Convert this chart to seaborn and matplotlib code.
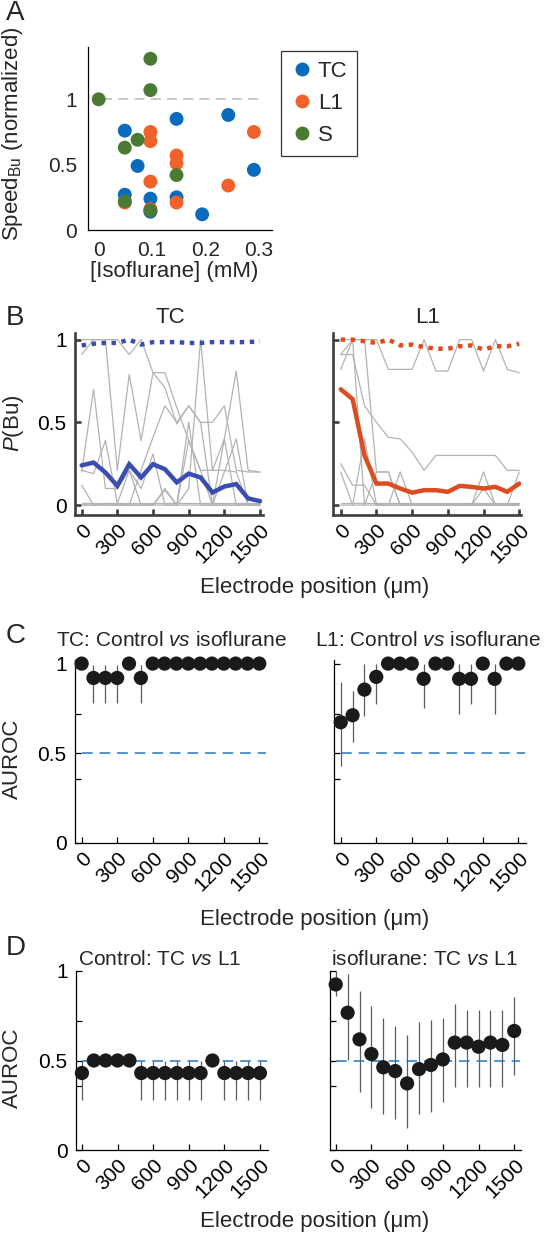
import numpy as np
import pandas as pd
import matplotlib
matplotlib.use("Agg")
import matplotlib.pyplot as plt
import seaborn as sns
from matplotlib.transforms import ScaledTranslation

# ---------------- data ----------------
groups = ["TC", "L1", "S"]
colors_A = ["#0a6bbd", "#f0622a", "#4a7a33"]
tc_conc = [0.049, 0.049, 0.073, 0.097, 0.097, 0.146, 0.146, 0.194, 0.243, 0.291]
tc_speed = [0.76, 0.27, 0.49, 0.24, 0.14, 0.85, 0.25, 0.12, 0.88, 0.46]
l1_conc = [0.049, 0.097, 0.097, 0.097, 0.097, 0.146, 0.146, 0.146, 0.243, 0.291]
l1_speed = [0.21, 0.75, 0.68, 0.37, 0.16, 0.57, 0.51, 0.21, 0.34, 0.75]
s_conc = [0.0, 0.049, 0.049, 0.073, 0.097, 0.097, 0.097, 0.146]
s_speed = [1.0, 0.63, 0.22, 0.69, 1.31, 1.07, 0.15, 0.42]

pos = list(range(0, 1600, 100))
pos_ticks = [0, 300, 600, 900, 1200, 1500]

# panel B: P(Bu) per electrode position
tc_ctrl_mean = [0.965, 0.975, 0.98, 0.98, 1.0, 0.97, 0.985, 0.985, 0.985, 0.98, 0.98, 0.985, 0.985, 0.985, 0.985, 0.99]
tc_iso_mean = [0.24, 0.257, 0.197, 0.116, 0.247, 0.167, 0.247, 0.217, 0.137, 0.19, 0.167, 0.076, 0.112, 0.127, 0.04, 0.024]
tc_traces = [
    [0.91, 1.0, 1.0, 1.0, 0.91, 1.0, 0.80, 0.80, 0.59, 0.39, 0.21, 0.21, 0.40, 0.81, 0.21, 0.20],
    [1.0, 1.0, 1.0, 0.21, 0.79, 0.39, 0.80, 0.71, 0.49, 0.60, 0.50, 0.50, 0.60, 0.21, 0.20, 0.20],
    [0.20, 0.70, 0.10, 0.10, 0.21, 0.10, 0.31, 0.0, 0.0, 0.50, 0.0, 0.0, 0.40, 0.0, 0.0, 0.0],
    [0.12, 0.0, 0.0, 0.0, 0.0, 0.0, 0.0, 0.10, 0.0, 0.10, 1.0, 0.21, 0.21, 0.20, 0.0, 0.0],
    [0.21, 0.19, 0.39, 0.01, 0.21, 0.0, 0.0, 0.09, 0.0, 0.39, 0.21, 0.0, 0.0, 0.0, 0.0, 0.01],
    [0.0, 0.0, 0.0, 0.0, 0.0, 0.21, 0.41, 0.60, 0.50, 0.60, 0.50, 0.0, 0.20, 0.40, 0.0, 0.0],
    [0.01, 0.01, 0.01, 0.01, 0.01, 0.01, 0.01, 0.01, 0.01, 0.01, 0.01, 0.01, 0.01, 0.01, 0.01, 0.01],
    [0.0, 0.0, 0.01, 0.0, 0.0, 0.0, 0.0, 0.0, 0.0, 0.0, 0.0, 0.0, 0.0, 0.0, 0.01, 0.0],
]
l1_ctrl_mean = [1.0, 1.0, 0.99, 0.98, 1.0, 0.965, 0.97, 0.955, 0.945, 0.945, 0.96, 0.965, 0.94, 0.96, 0.96, 0.975]
l1_iso_mean = [0.70, 0.64, 0.30, 0.13, 0.13, 0.10, 0.075, 0.09, 0.09, 0.08, 0.116, 0.11, 0.10, 0.11, 0.08, 0.13]
l1_traces = [
    [1.0, 1.0, 1.0, 1.0, 0.82, 0.82, 0.82, 1.0, 0.81, 0.81, 1.0, 1.0, 0.81, 1.0, 0.82, 0.80],
    [0.91, 0.91, 0.60, 0.50, 0.41, 0.40, 0.32, 0.21, 0.30, 0.30, 0.30, 0.30, 0.30, 0.30, 0.21, 0.21],
    [0.82, 1.0, 1.0, 0.20, 0.20, 0.0, 0.0, 0.0, 0.0, 0.0, 0.0, 0.0, 0.0, 0.0, 0.0, 0.0],
    [0.25, 0.12, 0.12, 0.0, 0.0, 0.0, 0.0, 0.0, 0.0, 0.0, 0.0, 0.0, 0.0, 0.0, 0.0, 0.0],
    [0.20, 0.0, 0.40, 0.0, 0.0, 0.20, 0.0, 0.0, 0.0, 0.0, 0.0, 0.0, 0.0, 0.0, 0.0, 0.0],
    [0.91, 1.0, 0.0, 0.20, 0.20, 0.0, 0.0, 0.0, 0.0, 0.0, 0.0, 0.0, 0.10, 0.0, 0.0, 0.01],
    [0.01, 0.01, 0.01, 0.01, 0.01, 0.01, 0.01, 0.01, 0.01, 0.01, 0.01, 0.01, 0.01, 0.01, 0.01, 0.01],
    [0.0, 0.0, 0.0, 0.0, 0.0, 0.0, 0.0, 0.0, 0.0, 0.0, 0.0, 0.0, 0.20, 0.0, 0.0, 0.20],
]

# panel C: AUROC control vs isoflurane
c_tc_auc = [1.0, 0.92, 0.92, 0.92, 1.0, 0.92, 1.0, 1.0, 1.0, 1.0, 1.0, 1.0, 1.0, 1.0, 1.0, 1.0]
c_tc_lo = [1.0, 0.78, 0.78, 0.78, 1.0, 0.78, 1.0, 1.0, 1.0, 1.0, 1.0, 1.0, 1.0, 1.0, 1.0, 1.0]
c_tc_hi = [1.0, 0.99, 0.99, 0.99, 1.0, 0.99, 1.0, 1.0, 1.0, 1.0, 1.0, 1.0, 1.0, 1.0, 1.0, 1.0]
c_l1_auc = [0.673, 0.712, 0.855, 0.926, 1.0, 1.0, 1.0, 0.915, 1.0, 1.0, 0.915, 0.915, 1.0, 0.915, 1.0, 1.0]
c_l1_lo = [0.43, 0.563, 0.706, 0.775, 1.0, 1.0, 1.0, 0.753, 1.0, 1.0, 0.72, 0.775, 1.0, 0.72, 1.0, 1.0]
c_l1_hi = [0.90, 0.85, 0.995, 1.0, 1.0, 1.0, 1.0, 0.995, 1.0, 1.0, 0.995, 0.995, 1.0, 0.995, 1.0, 1.0]

# panel D: AUROC TC vs L1
d_ctrl_auc = [0.43, 0.5, 0.5, 0.5, 0.5, 0.43, 0.43, 0.43, 0.43, 0.43, 0.43, 0.5, 0.43, 0.43, 0.43, 0.43]
d_ctrl_lo = [0.28, 0.5, 0.5, 0.5, 0.5, 0.28, 0.28, 0.28, 0.28, 0.28, 0.28, 0.5, 0.28, 0.28, 0.28, 0.28]
d_ctrl_hi = [0.5, 0.5, 0.5, 0.5, 0.5, 0.5, 0.5, 0.5, 0.5, 0.5, 0.5, 0.5, 0.5, 0.5, 0.5, 0.5]
d_iso_auc = [0.925, 0.767, 0.618, 0.536, 0.462, 0.441, 0.372, 0.452, 0.475, 0.506, 0.60, 0.60, 0.577, 0.60, 0.587, 0.665]
d_iso_lo = [0.86, 0.503, 0.322, 0.233, 0.20, 0.173, 0.121, 0.20, 0.21, 0.27, 0.354, 0.354, 0.354, 0.354, 0.354, 0.42]
d_iso_hi = [1.0, 0.983, 0.89, 0.806, 0.736, 0.693, 0.642, 0.715, 0.726, 0.736, 0.816, 0.78, 0.78, 0.78, 0.78, 0.857]

# ---------------- style ----------------
sns.set_theme(style="ticks")
plt.rcParams["font.family"] = ["Liberation Sans", "DejaVu Sans"]
plt.rcParams["mathtext.fontset"] = "custom"
plt.rcParams["mathtext.rm"] = "Liberation Sans"
plt.rcParams["mathtext.it"] = "Liberation Sans:italic"

FS_TICK = 15
FS_LAB = 16
FS_TITLE = 15
W, H = 548, 1233
fig = plt.figure(figsize=(W / 100, H / 100), dpi=100)


def add_ax(l, t, r, b):
    return fig.add_axes([l / W, 1 - b / H, (r - l) / W, (b - t) / H])


def ftext(x, y, s, **kw):
    fig.text(x / W, 1 - y / H, s, **kw)


def shift_xlabels(ax, dx_px):
    off = ScaledTranslation(dx_px / 100, 0, fig.dpi_scale_trans)
    for lab in ax.get_xticklabels():
        lab.set_transform(lab.get_transform() + off)


def style_pos_axis(ax, show_ylab, spine_col, spine_w, yt, ytl):
    sns.despine(ax=ax)
    for s in ("left", "bottom"):
        ax.spines[s].set_color(spine_col)
        ax.spines[s].set_linewidth(spine_w)
    ax.set_xticks(pos_ticks)
    ax.set_xticklabels([str(p) for p in pos_ticks], rotation=45, ha="right",
                       va="center", rotation_mode="anchor", fontsize=FS_TICK)
    ax.set_yticks(yt)
    ax.set_yticklabels(ytl if show_ylab else [""] * len(yt), fontsize=FS_TICK)
    ax.tick_params(axis="both", direction="in", length=4, width=spine_w,
                   color=spine_col, labelcolor="black")
    ax.tick_params(axis="x", pad=9)
    ax.tick_params(axis="y", pad=6)
    ax.set_xlabel("")
    ax.set_ylabel("")
    shift_xlabels(ax, 7)


# ---------------- panel A ----------------
axA = add_ax(88, 47, 272, 230)
dfA = pd.DataFrame({
    "conc": tc_conc + l1_conc + s_conc,
    "speed": tc_speed + l1_speed + s_speed,
    "group": ["TC"] * len(tc_conc) + ["L1"] * len(l1_conc) + ["S"] * len(s_conc),
})
axA.hlines(1.0, 0.006, 0.31, colors="#c4c4c4", linestyles=(0, (5.5, 3.5)), lw=1.3, zorder=1)
sns.scatterplot(data=dfA, x="conc", y="speed", hue="group", hue_order=groups,
                palette=dict(zip(groups, colors_A)), s=100, edgecolor="none",
                linewidth=0, ax=axA, zorder=3, clip_on=False)
axA.set_xlim(-0.02, 0.325)
axA.set_ylim(0, 1.4)
axA.set_xticks([0, 0.1, 0.2, 0.3])
axA.set_xticklabels(["0", "0.1", "0.2", "0.3"], fontsize=FS_TICK)
axA.set_yticks([0, 0.5, 1])
axA.set_yticklabels(["0", "0.5", "1"], fontsize=FS_TICK)
axA.tick_params(length=0, pad=8)
sns.despine(ax=axA)
for s in ("left", "bottom"):
    axA.spines[s].set_color("black")
    axA.spines[s].set_linewidth(0.9)
axA.set_xlabel("")
axA.set_ylabel("")
leg = axA.legend(loc="upper left", bbox_to_anchor=(281 / W, 1 - 51 / H),
                 bbox_transform=fig.transFigure, frameon=True, fancybox=False,
                 edgecolor="black", fontsize=FS_LAB, handletextpad=0.2,
                 borderpad=0.45, labelspacing=0.5, handlelength=1.0,
                 borderaxespad=0, markerscale=1.0)
leg.get_frame().set_linewidth(0.9)
ftext(174, 277, "[Isoflurane] (mM)", ha="center", va="baseline", fontsize=FS_LAB)
ftext(13, 134, r"Speed$_{\mathrm{Bu}}$ (normalized)", ha="center", va="center",
      rotation=90, fontsize=FS_LAB)

# ---------------- panel B ----------------
def panel_B(ax, traces, ctrl_mean, iso_mean, col, show_ylab):
    df_tr = pd.DataFrame({
        "pos": pos * len(traces),
        "p": [v for tr in traces for v in tr],
        "trace": [i for i in range(len(traces)) for _ in pos],
    })
    sns.lineplot(data=df_tr, x="pos", y="p", units="trace", estimator=None,
                 color="#b3b3b3", lw=0.9, ax=ax, zorder=1)
    sns.lineplot(x=pos, y=iso_mean, color=col, lw=3.2, ax=ax, zorder=3,
                 solid_joinstyle="miter")
    sns.lineplot(x=pos, y=ctrl_mean, color=col, lw=3.2, ax=ax, zorder=3,
                 ls=(0, (1.0, 1.25)), dash_capstyle="butt")
    style_pos_axis(ax, show_ylab, "#3d3d3d", 1.9, [0, 0.5, 1], ["0", "0.5", "1"])


axB1 = add_ax(75, 333, 263, 515)
panel_B(axB1, tc_traces, tc_ctrl_mean, tc_iso_mean, "#3a4db0", True)
axB1.set_xlim(-56, 1525)
axB1.set_ylim(-0.06, 1.04)
axB2 = add_ax(333, 333, 521, 515)
panel_B(axB2, l1_traces, l1_ctrl_mean, l1_iso_mean, "#dd4b1f", False)
axB2.set_xlim(-65, 1515)
axB2.set_ylim(-0.06, 1.04)
ftext(170, 323, "TC", ha="center", va="baseline", fontsize=FS_LAB)
ftext(428, 323, "L1", ha="center", va="baseline", fontsize=FS_LAB)
ftext(315, 593, "Electrode position (μm)", ha="center", va="baseline", fontsize=FS_LAB)
ftext(13, 423, r"$P$(Bu)", ha="center", va="center", rotation=90, fontsize=FS_LAB)


# ---------------- panels C, D ----------------
def panel_auc(ax, auc, lo, hi, show_ylab, xlim, ylim):
    ax.vlines(pos, lo, hi, colors="#5c5c5c", lw=0.9, zorder=1)
    ax.hlines(0.5, 0, xlim[1] - 10, colors="#2677c2", linestyles=(0, (7, 4.5)),
              lw=1.1, zorder=2)
    sns.scatterplot(x=pos, y=auc, color="#1a1a1a", s=105, edgecolor="none",
                    linewidth=0, ax=ax, zorder=3, clip_on=False)
    ax.set_xlim(*xlim)
    ax.set_ylim(*ylim)
    style_pos_axis(ax, show_ylab, "black", 0.9, [0, 0.355, 0.5, 0.72, 1],
                   ["0", "", "0.5", "", "1"])


axC1 = add_ax(75, 660, 267, 843)
panel_auc(axC1, c_tc_auc, c_tc_lo, c_tc_hi, True, (-56, 1565), (0, 1.02))
axC2 = add_ax(334, 660, 526, 843)
panel_auc(axC2, c_l1_auc, c_l1_lo, c_l1_hi, False, (-57, 1565), (0, 1.02))
ftext(171, 646, "TC: Control $\\mathit{vs}$ isoflurane", ha="center", va="baseline", fontsize=FS_TITLE)
ftext(428, 646, "L1: Control $\\mathit{vs}$ isoflurane", ha="center", va="baseline", fontsize=FS_TITLE)
ftext(315, 925, "Electrode position (μm)", ha="center", va="baseline", fontsize=FS_LAB)
ftext(12, 759, "AUROC", ha="center", va="center", rotation=90, fontsize=FS_LAB)

axD1 = add_ax(76, 971, 268, 1150)
panel_auc(axD1, d_ctrl_auc, d_ctrl_lo, d_ctrl_hi, True, (-50, 1568), (0, 1.0))
axD2 = add_ax(330, 971, 521, 1150)
panel_auc(axD2, d_iso_auc, d_iso_lo, d_iso_hi, False, (-48, 1557), (0, 1.0))
ftext(160, 965, "Control: TC $\\mathit{vs}$ L1", ha="center", va="baseline", fontsize=FS_TITLE)
ftext(424, 965, "isoflurane: TC $\\mathit{vs}$ L1", ha="center", va="baseline", fontsize=FS_TITLE)
ftext(315, 1227, "Electrode position (μm)", ha="center", va="baseline", fontsize=FS_LAB)
ftext(12, 1068, "AUROC", ha="center", va="center", rotation=90, fontsize=FS_LAB)

# panel letters
for letter, yb in (("A", 20), ("B", 325), ("C", 643), ("D", 955)):
    ftext(6, yb, letter, ha="left", va="baseline", fontsize=20)

fig.savefig("out.png", dpi=100)
